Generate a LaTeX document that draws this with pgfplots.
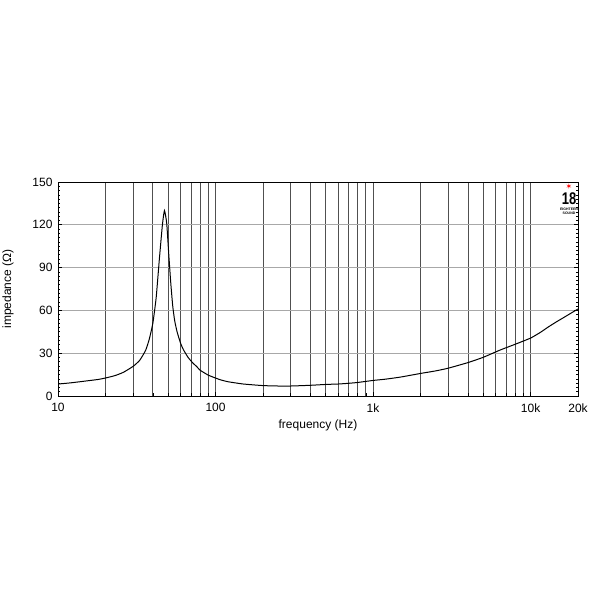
\documentclass[border=0pt]{standalone}
\usepackage{pgfplots}
\pgfplotsset{compat=1.18}
\usepackage{fontspec}
\setmainfont{Liberation Sans}
\newfontfamily\symfont{DejaVu Sans}
\definecolor{vgrid}{HTML}{505050}
\definecolor{hgrid}{HTML}{A8A8A8}
\begin{document}
\begin{tikzpicture}[x=1pt,y=1pt]
\useasboundingbox (0,0) rectangle (600,600);
\begin{axis}[
  at={(58pt,204pt)}, anchor=south west,
  width=520pt, height=214pt, scale only axis,
  xmode=log, xmin=10, xmax=20000, ymin=0, ymax=150,
  xtick={10,100,1000,10000,20000},
  xticklabels={10,100,1k,10k,20k},
  minor xtick={20,30,40,50,60,70,80,90,200,300,400,500,600,700,800,900,2000,3000,4000,5000,6000,7000,8000,9000},
  ytick={0,30,60,90,120,150},
  minor y tick num=9,
  log ticks with fixed point,
  /pgf/number format/assume math mode=true,
  font=\fontsize{12}{14}\selectfont,
  tick label style={font=\fontsize{12}{14}\selectfont},
  xticklabel style={yshift=-4pt},
  yticklabel style={xshift=-2pt},
  xlabel={frequency (Hz)}, ylabel={impedance (Ω)},
  xlabel style={yshift=-1pt},
  ylabel style={yshift=12pt},
  grid=both,
  x grid style={vgrid, line width=0.8pt},
  y grid style={hgrid, line width=0.8pt},
  minor x grid style={vgrid, line width=0.8pt},
  minor y grid style={draw=none},
  axis line style={black, line width=0.9pt},
  tick style={black, line width=0.6pt},
  major tick length=4pt, minor tick length=2.5pt,
  tick align=inside,
  xtick pos=bottom,
  ytick pos=both,
  clip=true,
]
\addplot[black, line width=1pt, smooth, tension=0.3] coordinates {
(10,8.4) (12,9.2) (15,10.5) (18,11.6) (20,12.6) (23,14.3) (26,16.6) (30,20.8)
(33,25) (36,32) (38,40) (40,51) (42,69) (44,96) (46,120) (47.4,130)
(49,121) (50.5,99) (52,79) (53.5,63) (55,53) (57,45) (60,37) (62.5,32.5)
(67,27) (72,23) (76,20.6) (80,18) (90,14.6) (100,12.6) (107,11.4) (120,10)
(150,8.4) (200,7.3) (250,7.0) (300,7.0) (400,7.5) (500,8.1) (600,8.4) (700,8.9)
(800,9.5) (1000,10.9) (1200,11.8) (1500,13.3) (2000,15.8) (2500,17.6) (3000,19.5)
(4000,23.4) (5000,27.1) (6400,32.2) (8000,36.3) (10000,40.6) (11500,44.5)
(13000,48.5) (14500,51.8) (16000,54.6) (18000,58) (20000,61)
};
\end{axis}
\node[text=red, font=\symfont\fontsize{8}{8}\selectfont] at (569,413) {✶};
\node[font=\bfseries\fontsize{13}{13}\selectfont, inner sep=0pt, yscale=1.3] at (569,401) {18};
\node[font=\bfseries\fontsize{3.5}{4}\selectfont, inner sep=0pt, align=center] at (569,389) {EIGHTEEN\\SOUND};
\end{tikzpicture}
\end{document}
